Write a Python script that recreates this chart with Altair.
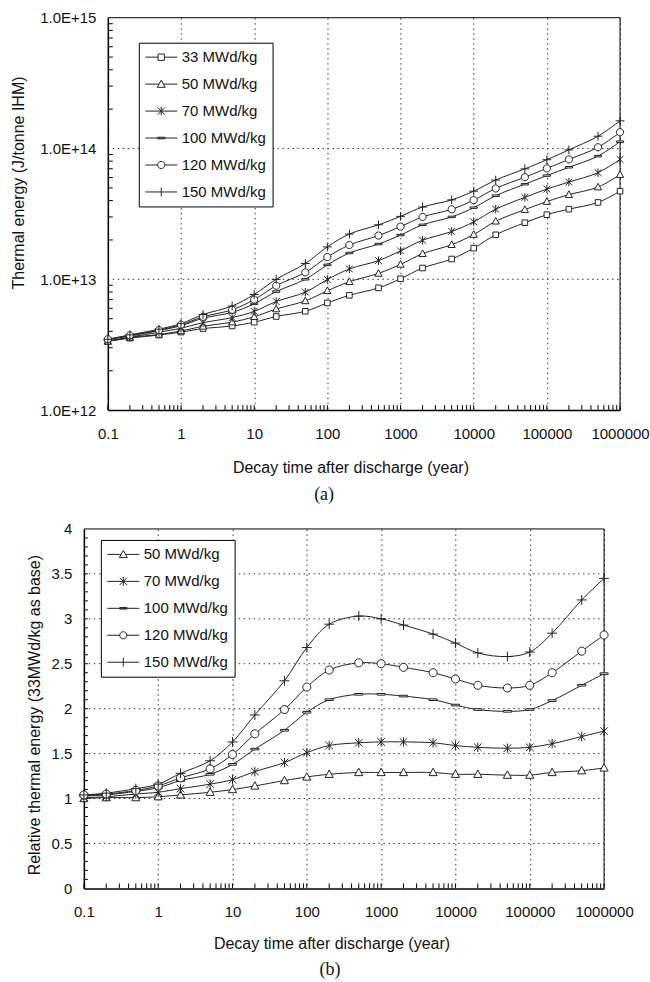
import altair as alt
import pandas as pd

# ---------------- data ----------------
times = [0.1, 0.2, 0.5, 1, 2, 5, 10, 20, 50, 100, 200, 500, 1000, 2000, 5000,
         10000, 20000, 50000, 100000, 200000, 500000, 1000000]

# (a) thermal energy, in units of 1e12 J/tonne IHM
e33 = [3.35, 3.55, 3.75, 3.95, 4.2, 4.4, 4.7, 5.2, 5.7, 6.6, 7.55, 8.6, 10.1, 12.2, 14.3,
       17.3, 21.9, 27.1, 31.2, 34.4, 38.7, 47.2]
e50 = [3.35, 3.59, 3.79, 4.03, 4.37, 4.71, 5.17, 5.93, 6.84, 8.18, 9.59, 11.1, 13.0, 15.7, 18.4,
       22.0, 27.8, 34.1, 39.3, 44.4, 50.7, 63.2]
e70 = [3.38, 3.62, 3.94, 4.23, 4.66, 5.10, 5.69, 6.76, 7.98, 9.97, 12.0, 13.9, 16.5, 19.9, 23.2,
       27.5, 34.4, 42.3, 49.0, 55.4, 65.4, 82.6]
e100 = [3.45, 3.69, 4.05, 4.42, 5.04, 5.59, 6.49, 8.06, 10.0, 12.9, 15.9, 18.6, 21.8, 26.1, 30.0,
        35.3, 43.6, 53.4, 62.1, 71.9, 87.5, 112.8]
e120 = [3.48, 3.73, 4.09, 4.50, 5.17, 5.85, 7.00, 8.94, 11.3, 14.8, 18.3, 21.6, 25.3, 30.0, 34.3,
        40.3, 49.5, 60.4, 70.5, 82.6, 102.2, 133.1]
e150 = [3.48, 3.76, 4.16, 4.58, 5.38, 6.25, 7.66, 10.0, 13.2, 17.7, 22.2, 26.1, 30.3, 35.7, 40.5,
        47.2, 57.4, 69.9, 82.1, 97.7, 124.2, 162.8]

# (b) relative thermal energy (33 MWd/kg as base)
r50 = [1.00, 1.01, 1.01, 1.02, 1.04, 1.07, 1.10, 1.14, 1.20, 1.24, 1.27, 1.29, 1.29, 1.29, 1.29,
       1.27, 1.27, 1.26, 1.26, 1.29, 1.31, 1.34]
r70 = [1.01, 1.02, 1.05, 1.07, 1.11, 1.16, 1.21, 1.30, 1.40, 1.51, 1.59, 1.62, 1.63, 1.63, 1.62,
       1.59, 1.57, 1.56, 1.57, 1.61, 1.69, 1.75]
r100 = [1.03, 1.04, 1.08, 1.12, 1.20, 1.27, 1.38, 1.55, 1.76, 1.96, 2.10, 2.16, 2.16, 2.14, 2.10,
        2.04, 1.99, 1.97, 1.99, 2.09, 2.26, 2.39]
r120 = [1.04, 1.05, 1.09, 1.14, 1.23, 1.33, 1.49, 1.72, 1.99, 2.24, 2.43, 2.51, 2.50, 2.46, 2.40,
        2.33, 2.26, 2.23, 2.26, 2.40, 2.64, 2.82]
r150 = [1.04, 1.06, 1.11, 1.16, 1.28, 1.42, 1.63, 1.93, 2.31, 2.68, 2.94, 3.03, 3.00, 2.93, 2.83,
        2.73, 2.62, 2.58, 2.63, 2.84, 3.21, 3.45]

names_a = ["33 MWd/kg", "50 MWd/kg", "70 MWd/kg", "100 MWd/kg", "120 MWd/kg", "150 MWd/kg"]
names_b = names_a[1:]

x_ticks = [0.1, 1, 10, 100, 1000, 10000, 100000, 1000000]
ya_ticks = [1e12, 1e13, 1e14, 1e15]
yb_ticks = [0, 0.5, 1, 1.5, 2, 2.5, 3, 3.5, 4]
ya_grid = [1e13, 1e14]
yb_grid = [0.5, 1, 1.5, 2, 2.5, 3, 3.5]

# ---------------- tables ----------------
rows_a = []
for nm, arr in zip(names_a, [e33, e50, e70, e100, e120, e150]):
    for t, v in zip(times, arr):
        rows_a.append({"t": t, "v": v * 1e12, "s": nm})
df_a = pd.DataFrame(rows_a)

rows_b = []
for nm, arr in zip(names_b, [r50, r70, r100, r120, r150]):
    for t, v in zip(times, arr):
        rows_b.append({"t": t, "v": v, "s": nm})
df_b = pd.DataFrame(rows_b)

# minor tick positions (axis decoration)
x_minor = pd.DataFrame({"t": [k * 10.0 ** e for e in range(-1, 6) for k in range(1, 10)] + [1e6]})
ya_minor = pd.DataFrame({"v": [k * 10.0 ** e for e in range(12, 15) for k in range(2, 10)]})
yb_minor = pd.DataFrame({"v": [i / 10 for i in range(1, 40)]})
one_row = pd.DataFrame({"k": [0]})

# ---------------- styles ----------------
marker = {
    "33 MWd/kg": "M-0.7,-0.7H0.7V0.7H-0.7Z",
    "50 MWd/kg": "M0,-0.95L0.9,0.7H-0.9Z",
    "70 MWd/kg": "M-0.85,-0.85L0.85,0.85M-0.85,0.85L0.85,-0.85M0,-1.05V1.05",
    "100 MWd/kg": "M-0.9,-0.18H0.9V0.18H-0.9Z",
    "120 MWd/kg": "M0.9,0A0.9,0.9,0,1,1,-0.9,0A0.9,0.9,0,1,1,0.9,0Z",
    "150 MWd/kg": "M-1.1,0H1.1M0,-1.1V1.1",
}
legend_sym = {
    "33 MWd/kg": "M-1,0H0.6M1.4,0H3M0.6,-0.4H1.4V0.4H0.6Z",
    "50 MWd/kg": "M-1,0H0.72M1.28,0H3M1,-0.5L1.5,0.4H0.5Z",
    "70 MWd/kg": "M-1,0H3M0.55,-0.45L1.45,0.45M0.55,0.45L1.45,-0.45M1,-0.55V0.55",
    "100 MWd/kg": "M-1,0H3M0.55,-0.1H1.45V0.1H0.55Z",
    "120 MWd/kg": "M-1,0H0.55M1.45,0H3M1.45,0A0.45,0.45,0,1,1,0.55,0A0.45,0.45,0,1,1,1.45,0Z",
    "150 MWd/kg": "M-1,0H3M1,-0.55V0.55",
}

FONT = "Liberation Sans"
INK = "#222222"
GRID = "#333333"
DASH = [1.5, 3.5]


def build(df, names, W, H, xoff, ytype, ydom, yaxis, ygrid, yminor, mk_size,
          legx, legy, xtitle_x, xtitle_y, caption, cap_dx, cap_offset, ytick_len):
    xscale = alt.Scale(type="log", domain=[0.1, 1e6], nice=False, range=[xoff, W])
    yscale = alt.Scale(type=ytype, domain=ydom, nice=False)
    xaxis = alt.Axis(values=x_ticks, format="~f", grid=True, ticks=False, labelPadding=16,
                     labelFlush=False, labelOverlap=False,
                     title="Decay time after discharge (year)", titleX=xtitle_x, titleY=xtitle_y,
                     titleAlign="center", titleBaseline="alphabetic")
    X = alt.X("t:Q", scale=xscale, axis=xaxis)
    Y = alt.Y("v:Q", scale=yscale, axis=yaxis)
    base = alt.Chart(df)
    hgrid = alt.Chart(pd.DataFrame({"v": ygrid})).mark_rule(
        color=GRID, strokeWidth=1, strokeDash=DASH).encode(
        y=Y, x=alt.value(xoff), x2=alt.value(W))
    lines = base.mark_line(interpolate="catmull-rom", color=INK, strokeWidth=1).encode(
        x=X, y=Y, detail="s:N")
    pts = base.mark_point(filled=False, fill="white", stroke=INK, strokeWidth=1,
                          opacity=1, size=mk_size).encode(
        x=X, y=Y,
        shape=alt.Shape("s:N", scale=alt.Scale(domain=names, range=[marker[n] for n in names]),
                        legend=None))
    leg = base.transform_filter("false").mark_point(filled=False, stroke=INK, opacity=1).encode(
        x=X, y=Y,
        shape=alt.Shape("s:N", scale=alt.Scale(domain=names, range=[legend_sym[n] for n in names]),
                        legend=alt.Legend(title=None, orient="none", legendX=legx, legendY=legy,
                                          direction="vertical", symbolSize=256,
                                          symbolStrokeWidth=1, symbolStrokeColor=INK,
                                          symbolFillColor="white", labelOffset=20,
                                          labelFontSize=15, labelFont=FONT, labelColor="#111",
                                          rowPadding=10, padding=6, strokeColor="black",
                                          fillColor="white")))
    xt = alt.Chart(x_minor).mark_rule(color="black", strokeWidth=1).encode(
        x=X, y=alt.value(H), y2=alt.value(H - 5))
    yt = alt.Chart(yminor).mark_rule(color="black", strokeWidth=1).encode(
        y=Y, x=alt.value(xoff), x2=alt.value(xoff + ytick_len))
    edge_top = alt.Chart(one_row).mark_rule(color="black", strokeWidth=1).encode(
        x=alt.value(xoff), x2=alt.value(W), y=alt.value(0))
    edge_right = alt.Chart(one_row).mark_rule(color="black", strokeWidth=1).encode(
        x=alt.value(W), y=alt.value(0), y2=alt.value(H))
    return alt.layer(hgrid, lines, xt, yt, edge_top, edge_right, pts, leg).resolve_scale(
        shape="independent").properties(
        width=W, height=H,
        view=alt.ViewBackground(stroke="transparent"),
        title=alt.TitleParams(caption, orient="bottom", font="Liberation Serif", fontSize=18,
                              fontWeight="normal", color="#111", offset=cap_offset,
                              anchor="middle", frame="bounds", dx=cap_dx),
    )


XOFF = 24  # plot (a) starts this many pixels right of plot (b)

ya_axis = alt.Axis(values=ya_ticks, labelExpr="'1.0E+' + round(log(datum.value) / LN10)",
                   grid=False, ticks=False, labelPadding=12, labelFlush=False, labelOverlap=False,
                   offset=-XOFF,
                   title="Thermal energy (J/tonne IHM)", titleX=-89, titleY=165, titleAngle=270,
                   titleAlign="center", titleBaseline="middle")
yb_axis = alt.Axis(values=yb_ticks, format="~g", grid=False, ticks=False, labelPadding=12,
                   labelFlush=False, labelOverlap=False,
                   title="Relative thermal energy (33MWd/kg as base)",
                   titleX=-49, titleY=186,
                   titleAngle=270, titleAlign="center", titleBaseline="middle")

top = build(df_a, names_a, 537, 393, XOFF, "log", [1e12, 1e15], ya_axis, ya_grid, ya_minor, 64,
            31 + XOFF, 25, 243 + XOFF, 62, "(a)", -6, 11, 5)
bottom = build(df_b, names_b, 521, 360, 0, "linear", [0, 4], yb_axis, yb_grid, yb_minor, 81,
               17, 11, 248, 60, "(b)", 0, 10, 4)

chart = alt.vconcat(top, bottom, spacing=16).properties(
    padding={"left": 10, "top": 9, "right": 0, "bottom": 0}
).configure_view(stroke="transparent").configure_axis(
    domainColor="black", domainWidth=1.5, labelFont=FONT, labelFontSize=15, labelColor="#111",
    titleFont=FONT, titleFontSize=16, titleFontWeight="normal", titleColor="#111",
    gridColor=GRID, gridDash=DASH, gridWidth=1, gridOpacity=1,
).configure_legend(strokeColor="black")

chart.save("out.html", embed_options={"renderer": "svg", "actions": False})
